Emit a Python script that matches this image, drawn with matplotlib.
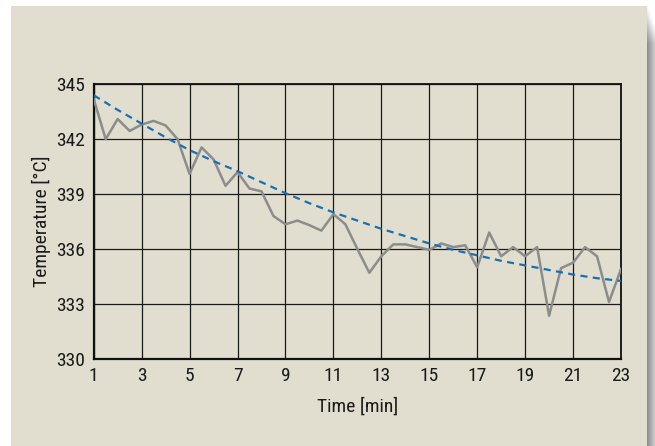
import numpy as np
import matplotlib
matplotlib.use('Agg')
import matplotlib.pyplot as plt
from matplotlib import font_manager
from matplotlib.patches import Rectangle

# measured temperature, one reading every half minute
time_min = [1.0, 1.5, 2.0, 2.5, 3.0, 3.5, 4.0, 4.5, 5.0, 5.5, 6.0, 6.5,
            7.0, 7.5, 8.0, 8.5, 9.0, 9.5, 10.0, 10.5, 11.0, 11.5, 12.0, 12.5,
            13.0, 13.5, 14.0, 14.5, 15.0, 15.5, 16.0, 16.5, 17.0, 17.5, 18.0,
            18.5, 19.0, 19.5, 20.0, 20.5, 21.0, 21.5, 22.0, 22.5, 23.0]
temp_c = [344.2, 342.0, 343.1, 342.45, 342.8, 343.0, 342.75, 342.0, 340.1,
          341.55, 340.9, 339.45, 340.2, 339.3, 339.15, 337.8, 337.35, 337.55,
          337.3, 337.0, 337.9, 337.35, 336.0, 334.7, 335.6, 336.25, 336.25,
          336.1, 335.95, 336.3, 336.1, 336.2, 335.0, 336.9, 335.6, 336.1,
          335.6, 336.1, 332.35, 334.95, 335.25, 336.1, 335.6, 333.1, 334.9]

# trend line
trend_t = [1, 2, 3, 4, 5, 6, 7, 8, 9, 10, 11, 12, 13, 14, 15, 16, 17, 18,
           19, 20, 21, 22, 23]
trend_c = [344.4, 343.6, 342.85, 342.1, 341.4, 340.8, 340.25, 339.65, 339.05,
           338.5, 338.0, 337.55, 337.1, 336.7, 336.3, 335.95, 335.65, 335.35,
           335.1, 334.85, 334.6, 334.4, 334.25]

x_ticks = [1, 3, 5, 7, 9, 11, 13, 15, 17, 19, 21, 23]
y_ticks = [330, 333, 336, 339, 342, 345]

BEIGE = '#e1decf'
TEXT = '#1a1a1a'
FS = 14


def pick_font():
    # the original uses a condensed grotesque, take whatever narrow face is there
    have = set(f.name for f in font_manager.fontManager.ttflist)
    for name in ['Roboto Condensed', 'Archivo Narrow', 'PT Sans Narrow',
                 'Fira Sans Condensed', 'Liberation Sans Narrow',
                 'Open Sans Condensed', 'Encode Sans Condensed']:
        if name in have:
            return name
    return 'DejaVu Sans'


plt.rcParams['font.family'] = [pick_font(), 'DejaVu Sans']


def draw_panel(fig):
    W, H = 655.0, 446.0
    bg = fig.add_axes([0, 0, 1, 1], zorder=-10)
    bg.axis('off')
    # beige card
    bg.add_patch(Rectangle((11, 6), 647 - 11, H - 6, facecolor=BEIGE,
                           edgecolor='none'))
    # shadow on the right edge
    grad = np.tile(np.linspace(0.55, 0.8, 16), (64, 1))
    grad[:6] = grad[:6] + np.linspace(0.4, 0.0, 6)[:, None]
    bg.imshow(np.clip(grad, 0, 1), cmap='gray', vmin=0, vmax=1,
              extent=(647, 655, H, 6), aspect='auto',
              interpolation='bilinear')
    bg.set_xlim(0, W)
    bg.set_ylim(H, 0)


def main():
    fig = plt.figure(figsize=(6.55, 4.46), dpi=100, facecolor='white')
    draw_panel(fig)

    ax = fig.add_axes([93.7 / 655, 1 - 358.7 / 446, (621 - 93.7) / 655,
                       (358.7 - 84.3) / 446])
    ax.set_facecolor(BEIGE)

    ax.plot(time_min, temp_c, color='#8c8c8c', lw=1.8, zorder=3)
    ax.plot(trend_t, trend_c, color='#1670b4', lw=1.6, dashes=(3.2, 2.4),
            zorder=4)

    ax.set_xlim(1, 23)
    ax.set_ylim(330, 345)
    ax.set_xticks(x_ticks)
    ax.set_yticks(y_ticks)
    ax.grid(True, color='#1a1a1a', lw=0.9)
    ax.set_axisbelow(True)
    ax.tick_params(length=0, labelsize=FS, colors=TEXT)
    ax.tick_params(axis='x', pad=6)
    ax.tick_params(axis='y', pad=6.5)

    for side in ['top', 'right']:
        ax.spines[side].set_linewidth(1.3)
        ax.spines[side].set_color('#111111')
    for side in ['left', 'bottom']:
        ax.spines[side].set_linewidth(1.6)
        ax.spines[side].set_color('#111111')

    ax.set_xlabel('Time [min]', fontsize=FS, color=TEXT, labelpad=9)
    ax.set_ylabel('Temperature [°C]', fontsize=FS, color=TEXT, labelpad=3.5)

    fig.savefig('out.png', dpi=100, facecolor='white')
    plt.close(fig)


if __name__ == '__main__':
    main()
